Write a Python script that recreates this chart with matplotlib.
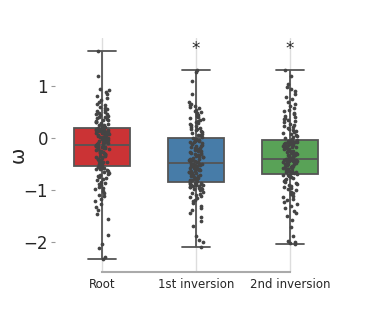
import numpy as np
import pandas as pd
import matplotlib
matplotlib.use("Agg")
import matplotlib.pyplot as plt
import seaborn as sns

###############################################################################
# 数据
###############################################################################
CATEGORIES = ["Root", "1st inversion", "2nd inversion"]
STARS = ["", "*", "*"]
STAR_Y = 1.72

root_vals = [
    -2.33, -2.30, -2.12, -2.05, -1.86, -1.55, -1.46, -1.38, -1.33, -1.27,
    -1.22, -1.17, -1.12, -1.09, -1.05, -1.02, -0.99, -0.97, -0.94, -0.91,
    -0.88, -0.86, -0.84, -0.81, -0.79, -0.77, -0.75, -0.73, -0.71, -0.69,
    -0.67, -0.66, -0.64, -0.62, -0.60, -0.59, -0.58, -0.57, -0.56, -0.55,
    -0.53, -0.52, -0.51, -0.50, -0.48, -0.47, -0.46, -0.45, -0.43, -0.42,
    -0.41, -0.40, -0.38, -0.37, -0.36, -0.35, -0.34, -0.32, -0.31, -0.30,
    -0.29, -0.28, -0.27, -0.26, -0.25, -0.24, -0.23, -0.22, -0.21, -0.20,
    -0.19, -0.19, -0.18, -0.17, -0.17, -0.16, -0.15, -0.15, -0.14, -0.14,
    -0.12, -0.11, -0.10, -0.09, -0.08, -0.07, -0.06, -0.05, -0.04, -0.03,
    -0.03, -0.02, -0.01, 0.00, 0.00, 0.01, 0.02, 0.03, 0.03, 0.04,
    0.05, 0.06, 0.06, 0.07, 0.08, 0.09, 0.09, 0.10, 0.11, 0.12,
    0.12, 0.13, 0.14, 0.14, 0.15, 0.16, 0.16, 0.17, 0.18, 0.18,
    0.20, 0.21, 0.22, 0.24, 0.25, 0.26, 0.28, 0.29, 0.30, 0.31,
    0.33, 0.34, 0.35, 0.37, 0.38, 0.40, 0.41, 0.43, 0.44, 0.46,
    0.47, 0.49, 0.50, 0.52, 0.54, 0.56, 0.58, 0.60, 0.63, 0.66,
    0.70, 0.74, 0.78, 0.82, 0.85, 0.88, 0.92, 0.95, 1.20, 1.68,
]

inv1_vals = [
    -2.10, -2.01, -1.96, -1.88, -1.70, -1.60, -1.52, -1.45, -1.38, -1.34,
    -1.30, -1.26, -1.22, -1.19, -1.16, -1.13, -1.11, -1.09, -1.07, -1.05,
    -1.03, -1.01, -0.99, -0.98, -0.97, -0.96, -0.95, -0.94, -0.93, -0.92,
    -0.91, -0.90, -0.90, -0.89, -0.88, -0.88, -0.87, -0.87, -0.86, -0.86,
    -0.84, -0.83, -0.82, -0.81, -0.80, -0.79, -0.78, -0.77, -0.76, -0.75,
    -0.74, -0.73, -0.72, -0.71, -0.70, -0.69, -0.68, -0.67, -0.66, -0.65,
    -0.64, -0.63, -0.62, -0.61, -0.60, -0.59, -0.58, -0.57, -0.56, -0.55,
    -0.54, -0.53, -0.52, -0.52, -0.51, -0.51, -0.50, -0.50, -0.49, -0.49,
    -0.47, -0.46, -0.45, -0.44, -0.43, -0.42, -0.41, -0.40, -0.38, -0.37,
    -0.36, -0.35, -0.34, -0.32, -0.31, -0.30, -0.29, -0.28, -0.26, -0.25,
    -0.24, -0.23, -0.21, -0.20, -0.19, -0.18, -0.16, -0.15, -0.14, -0.12,
    -0.11, -0.10, -0.08, -0.07, -0.06, -0.05, -0.04, -0.03, -0.02, -0.01,
    0.01, 0.03, 0.05, 0.06, 0.08, 0.10, 0.12, 0.13, 0.15, 0.17,
    0.18, 0.20, 0.22, 0.23, 0.25, 0.27, 0.29, 0.30, 0.32, 0.34,
    0.36, 0.38, 0.40, 0.42, 0.44, 0.46, 0.48, 0.50, 0.52, 0.55,
    0.57, 0.59, 0.61, 0.63, 0.66, 0.70, 0.85, 1.10, 1.28, 1.31,
]

inv2_vals = [
    -2.05, -2.03, -2.01, -1.99, -1.88, -1.72, -1.58, -1.50, -1.45, -1.40,
    -1.35, -1.31, -1.27, -1.24, -1.20, -1.17, -1.14, -1.11, -1.08, -1.05,
    -1.03, -1.00, -0.98, -0.96, -0.94, -0.92, -0.90, -0.88, -0.86, -0.84,
    -0.82, -0.80, -0.78, -0.77, -0.75, -0.74, -0.73, -0.72, -0.71, -0.70,
    -0.68, -0.67, -0.66, -0.65, -0.64, -0.63, -0.62, -0.61, -0.60, -0.59,
    -0.58, -0.57, -0.56, -0.55, -0.54, -0.53, -0.52, -0.51, -0.50, -0.50,
    -0.49, -0.48, -0.47, -0.47, -0.46, -0.45, -0.45, -0.44, -0.44, -0.43,
    -0.43, -0.42, -0.42, -0.42, -0.41, -0.41, -0.41, -0.41, -0.40, -0.40,
    -0.39, -0.38, -0.37, -0.36, -0.35, -0.34, -0.33, -0.32, -0.31, -0.30,
    -0.29, -0.28, -0.27, -0.26, -0.25, -0.24, -0.23, -0.22, -0.21, -0.20,
    -0.19, -0.18, -0.17, -0.16, -0.15, -0.14, -0.13, -0.12, -0.11, -0.10,
    -0.09, -0.08, -0.08, -0.07, -0.07, -0.06, -0.06, -0.05, -0.05, -0.04,
    -0.02, 0.00, 0.02, 0.04, 0.06, 0.08, 0.10, 0.12, 0.14, 0.16,
    0.18, 0.20, 0.22, 0.24, 0.26, 0.28, 0.30, 0.32, 0.34, 0.36,
    0.38, 0.40, 0.43, 0.46, 0.49, 0.52, 0.55, 0.58, 0.62, 0.66,
    0.70, 0.75, 0.80, 0.85, 0.90, 0.95, 0.98, 1.05, 1.20, 1.31,
]

PALETTE = ["#E41A1C", "#377EB8", "#4DAF4A"]

###############################################################################
# 绘图
###############################################################################
def main():
    df = pd.DataFrame({
        "group": ([CATEGORIES[0]] * len(root_vals)
                  + [CATEGORIES[1]] * len(inv1_vals)
                  + [CATEGORIES[2]] * len(inv2_vals)),
        "omega": root_vals + inv1_vals + inv2_vals,
    })

    sns.set_style("whitegrid")
    plt.rcParams["font.family"] = ["DejaVu Sans"]

    fig = plt.figure(figsize=(3.74, 3.2), dpi=100)
    ax = fig.add_axes([0.147, 0.15, 0.754, 0.73])

    sns.boxplot(data=df, x="group", y="omega", order=CATEGORIES,
                hue="group", hue_order=CATEGORIES, palette=PALETTE,
                legend=False, whis=np.inf, width=0.6, linewidth=1.3,
                linecolor="#555555", ax=ax)
    np.random.seed(3)
    sns.stripplot(data=df, x="group", y="omega", order=CATEGORIES,
                  color="#444444", size=2.7, jitter=0.075, ax=ax)

    for i, s in enumerate(STARS):
        if s:
            ax.text(i, STAR_Y, s, ha="center", va="center", fontsize=12)

    ax.set_xlim(-0.5, 2.5)
    ax.set_ylim(-2.58, 1.92)
    ax.set_yticks([-2, -1, 0, 1])
    ax.set_yticklabels(["\u22122", "\u22121", "0", "1"])
    ax.set_xlabel("")
    ax.set_ylabel("\u03c9", fontsize=14, labelpad=-3)
    ax.grid(axis="y", visible=False)
    ax.grid(axis="x", color="#dddddd", linewidth=1.0)
    ax.tick_params(axis="y", labelsize=12, length=3, width=0.8,
                   color="#999999", left=True, pad=2)
    ax.tick_params(axis="x", labelsize=8.5, length=0, pad=4)
    sns.despine(ax=ax, left=True, trim=True)
    ax.spines["bottom"].set_color("#aaaaaa")
    ax.spines["bottom"].set_linewidth(1.5)

    fig.savefig("out.png", dpi=100)
    plt.close(fig)


if __name__ == "__main__":
    main()
